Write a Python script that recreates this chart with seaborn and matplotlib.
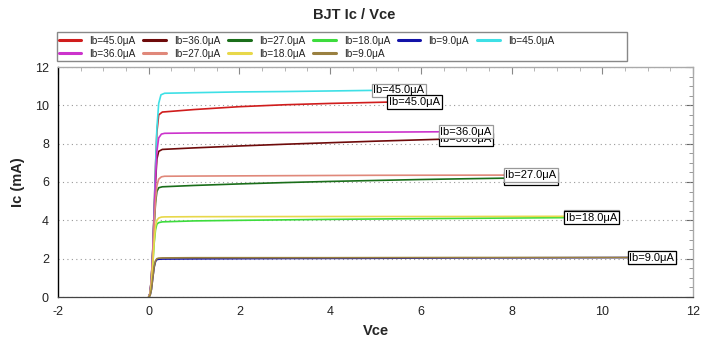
import numpy as np
import pandas as pd
import matplotlib
matplotlib.use("Agg")
import matplotlib.pyplot as plt
from matplotlib.patches import Rectangle
import seaborn as sns

# ---------------- data ----------------
series_labels = ["Ib=45.0μA", "Ib=36.0μA", "Ib=27.0μA", "Ib=18.0μA", "Ib=9.0μA",
                 "Ib=45.0μA", "Ib=36.0μA", "Ib=27.0μA", "Ib=18.0μA", "Ib=9.0μA"]
series_ids = ["s45a", "s36a", "s27a", "s18a", "s9a", "s45b", "s36b", "s27b", "s18b", "s9b"]
series_colors = ["#d01c1c", "#6e0a0a", "#1a6e1a", "#3ddc3d", "#1212a8",
                 "#3ee0e6", "#cc33cc", "#e0887a", "#e8d84a", "#9a8040"]

vce_45a = [0, 0.03, 0.06, 0.09, 0.12, 0.15, 0.18, 0.22, 0.3, 1.0, 2.0, 3.0, 4.0, 5.3]
ic_45a = [0, 0.2, 1.0, 2.5, 4.5, 6.8, 8.6, 9.5, 9.65, 9.78, 9.93, 10.03, 10.1, 10.17]

vce_36a = [0, 0.03, 0.06, 0.09, 0.12, 0.15, 0.18, 0.22, 0.3, 1, 2, 3, 4, 5, 6.43]
ic_36a = [0, 0.2, 1.0, 2.4, 4.3, 6.0, 7.2, 7.6, 7.7, 7.78, 7.88, 7.97, 8.05, 8.13, 8.23]

vce_27a = [0, 0.03, 0.06, 0.09, 0.12, 0.15, 0.18, 0.22, 0.3, 1, 2, 3, 4, 5, 6, 7, 7.86]
ic_27a = [0, 0.15, 0.9, 2.2, 3.7, 4.9, 5.5, 5.7, 5.75, 5.82, 5.9, 5.97, 6.03, 6.08, 6.13, 6.17, 6.2]

vce_18a = [0, 0.03, 0.06, 0.09, 0.12, 0.15, 0.18, 0.22, 0.3, 1, 2, 4, 6, 8, 9.2]
ic_18a = [0, 0.12, 0.7, 1.7, 2.8, 3.5, 3.8, 3.88, 3.92, 3.97, 4.0, 4.05, 4.09, 4.12, 4.14]

vce_9a = [0, 0.03, 0.06, 0.09, 0.12, 0.15, 0.18, 0.22, 0.3, 1, 3, 5, 7, 9, 10.6]
ic_9a = [0, 0.08, 0.4, 1.0, 1.55, 1.85, 1.95, 1.97, 1.98, 1.99, 2.01, 2.02, 2.04, 2.05, 2.06]

vce_45b = [0, 0.03, 0.06, 0.09, 0.12, 0.15, 0.18, 0.22, 0.27, 0.35, 1.0, 2.0, 3.0, 4.0, 4.95]
ic_45b = [0, 0.2, 1.0, 2.5, 4.5, 6.8, 8.8, 10.1, 10.55, 10.63, 10.66, 10.7, 10.72, 10.75, 10.78]

vce_36b = [0, 0.03, 0.06, 0.09, 0.12, 0.15, 0.18, 0.22, 0.28, 0.35, 1, 3, 5, 6.43]
ic_36b = [0, 0.2, 1.0, 2.4, 4.3, 6.2, 7.6, 8.3, 8.5, 8.54, 8.56, 8.58, 8.6, 8.62]

vce_27b = [0, 0.03, 0.06, 0.09, 0.12, 0.15, 0.18, 0.22, 0.28, 0.35, 1, 3, 5, 7.86]
ic_27b = [0, 0.15, 0.9, 2.2, 3.8, 5.0, 5.8, 6.15, 6.27, 6.3, 6.31, 6.33, 6.35, 6.36]

vce_18b = [0, 0.03, 0.06, 0.09, 0.12, 0.15, 0.18, 0.22, 0.28, 0.35, 1, 4, 7, 9.2]
ic_18b = [0, 0.12, 0.7, 1.7, 2.9, 3.7, 4.0, 4.12, 4.17, 4.18, 4.19, 4.2, 4.2, 4.21]

vce_9b = [0, 0.03, 0.06, 0.09, 0.12, 0.15, 0.18, 0.22, 0.3, 1, 4, 7, 10.6]
ic_9b = [0, 0.08, 0.4, 1.0, 1.6, 1.9, 2.0, 2.03, 2.04, 2.05, 2.05, 2.06, 2.06]

vce_all = [vce_45a, vce_36a, vce_27a, vce_18a, vce_9a, vce_45b, vce_36b, vce_27b, vce_18b, vce_9b]
ic_all = [ic_45a, ic_36a, ic_27a, ic_18a, ic_9a, ic_45b, ic_36b, ic_27b, ic_18b, ic_9b]

title = "BJT Ic / Vce"
xlabel = "Vce"
ylabel = "Ic (mA)"

# ---------------- build long table ----------------
frames = []
for sid, v, i in zip(series_ids, vce_all, ic_all):
    frames.append(pd.DataFrame({"Vce": v, "Ic": i, "series": sid}))
df = pd.concat(frames, ignore_index=True)

sns.set_style("white")
plt.rcParams["font.family"] = ["Liberation Sans", "DejaVu Sans"]
plt.rcParams["axes.unicode_minus"] = False

fig = plt.figure(figsize=(7.09, 3.41), dpi=100)
W, H = 709, 341
ax = fig.add_axes([58 / W, 1 - 297 / H, (693 - 58) / W, (297 - 67) / H])

palette = dict(zip(series_ids, series_colors))
sns.lineplot(data=df, x="Vce", y="Ic", hue="series", hue_order=series_ids,
             palette=palette, sort=False, estimator=None, units="series",
             legend=False, linewidth=1.2, ax=ax)

ax.set_xlim(-2, 12)
ax.set_ylim(0, 12)
ax.set_xticks(np.arange(-2, 13, 2))
ax.set_yticks(np.arange(0, 13, 2))
ax.set_xticks(np.arange(-2, 12.01, 0.5), minor=True)
ax.set_yticks(np.arange(0, 12.01, 0.5), minor=True)
ax.yaxis.grid(True, which="major", linestyle=(0, (1, 3)), color="#999999", linewidth=0.8)
ax.xaxis.grid(False)

ax.spines["left"].set_color("black")
ax.spines["left"].set_linewidth(1.0)
ax.spines["bottom"].set_color("#444444")
ax.spines["bottom"].set_linewidth(0.9)
for s in ["top", "right"]:
    ax.spines[s].set_color("#aaaaaa")
    ax.spines[s].set_linewidth(0.9)

ax.tick_params(axis="both", which="major", direction="inout", length=7, width=0.9,
               labelsize=9, labelcolor="#222222", pad=3)
ax.tick_params(axis="both", which="minor", direction="inout", length=4, width=0.6)
ax.tick_params(axis="y", colors="black", labelcolor="#222222")
ax.tick_params(axis="x", colors="#444444", labelcolor="#222222")

secx = ax.secondary_xaxis("top")
secx.set_xticks(np.arange(-2, 13, 2))
secx.set_xticks(np.arange(-2, 12.01, 0.5), minor=True)
secx.tick_params(which="major", direction="in", length=5, color="#888888", labeltop=False)
secx.tick_params(which="minor", direction="in", length=3, color="#aaaaaa")
secx.spines["top"].set_color("#aaaaaa")
secy = ax.secondary_yaxis("right")
secy.set_yticks(np.arange(0, 13, 2))
secy.set_yticks(np.arange(0, 12.01, 0.5), minor=True)
secy.tick_params(which="major", direction="in", length=5, color="#666666", labelright=False)
secy.tick_params(which="minor", direction="in", length=3, color="#888888")
secy.spines["right"].set_color("#aaaaaa")

ax.set_xlabel(xlabel, fontsize=10.5, fontweight="bold", labelpad=4)
ax.set_ylabel(ylabel, fontsize=10.5, fontweight="bold", labelpad=7)
fig.text(0.5, 1 - 15 / H, title, ha="center", va="center", fontsize=10.5, fontweight="bold")

# ---------------- end-of-curve labels ----------------
edge_colors = ["black"] * 5 + ["#999999"] * 5
label_z = [6, 5, 5, 7, 7, 5, 6, 6, 6, 6]
for lab, v, i, ec, z in zip(series_labels, vce_all, ic_all, edge_colors, label_z):
    ax.text(v[-1], i[-1], lab, ha="left", va="center", fontsize=8, color="black",
            zorder=z,
            bbox=dict(boxstyle="square,pad=0.15", fc="white", ec=ec, lw=0.9))

# ---------------- legend ----------------
order = ["s45a", "s36b", "s36a", "s27b", "s27a", "s18b", "s18a", "s9b", "s9a", "s45b"]
lab_of = dict(zip(series_ids, series_labels))
handles = [plt.Line2D([], [], color=palette[sid], linewidth=2.2) for sid in order]
leg = fig.legend(handles, [lab_of[s] for s in order], ncol=6, loc="upper left",
                 bbox_to_anchor=(57 / W, 1 - 34 / H), frameon=False, fontsize=7.3,
                 handlelength=2.2, handletextpad=0.8, columnspacing=0.8,
                 labelspacing=0.3, borderpad=0.15, borderaxespad=0)
for t in leg.get_texts():
    t.set_color("#222222")
fig.add_artist(Rectangle((57 / W, 1 - 61 / H), (627 - 57) / W, (61 - 32) / H,
                         transform=fig.transFigure, fill=False, ec="#888888", lw=1.0))

fig.savefig("out.png", dpi=100)
